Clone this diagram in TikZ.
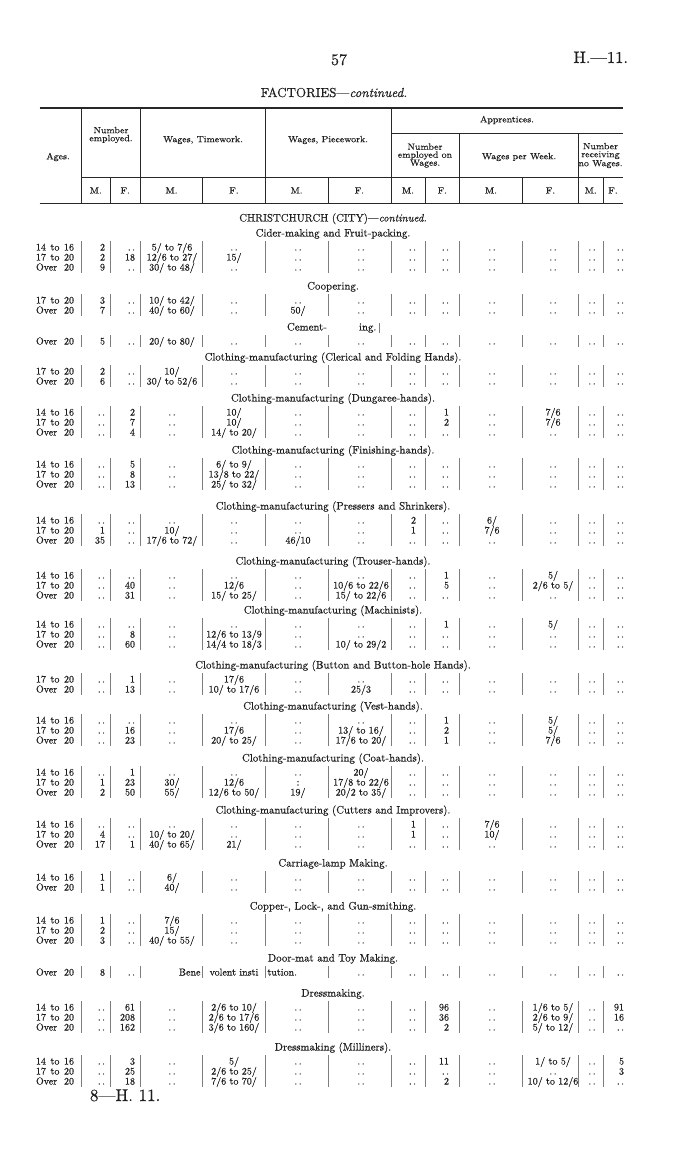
\documentclass[tikz,border=0pt]{standalone}
\usepackage{tikz}
\usepackage{fontspec}
\setmainfont{lmroman10-regular.otf}[ItalicFont=lmroman10-italic.otf, FakeBold=0.4]
\newfontfamily\hdrfont{lmroman10-regular.otf}[FakeStretch=1.1, FakeBold=0.4]
\definecolor{ink}{RGB}{30,30,30}
\definecolor{rulec}{RGB}{40,40,40}
\definecolor{barc}{RGB}{125,125,125}
\newcommand\dd{.\kern1.6pt.}
\newcounter{rowc}
\newcounter{ttlc}
\tikzset{
  every node/.style={inner sep=0pt, outer sep=0pt, text=ink},
  cell/.style={font=\fontsize{10}{11}\selectfont},
  ttl/.style={font=\fontsize{10.8}{12}\selectfont, anchor=base},
  hdr/.style={font=\hdrfont\fontsize{9}{8}\selectfont, align=center},
  heavyrule/.style={draw=rulec, line width=1.3pt},
  thinrule/.style={draw=rulec, line width=0.6pt},
  barline/.style={draw=barc, line width=0.45pt},
}
\newcommand\trow[3]{%
  \stepcounter{rowc}%
  \node[cell, anchor=base west] (a\therowc) at (36,#1) {\makebox[38pt][s]{#2}};
  \foreach \v [count=\i] in {#3} {%
    \pgfmathsetmacro\cx{{105,135,172,234,298,361,416,449,492,553,592,624}[\i-1]}%
    \pgfmathtruncatemacro\ca{{1,1,0,0,0,0,1,1,0,0,0,1}[\i-1]}%
    \ifnum\ca=1 \def\an{base east}\else\def\an{base}\fi
    \node[cell, anchor=\an] (c\therowc-\i) at (\cx,#1) {\v};
  }%
}
\newcommand\bars[2]{%
  \foreach \bx in {81.6,110,140.4,202.7,265.5,327.8,391,425,459.6,522.4,578.5,603} {%
    \draw[barline] (\bx,#1) -- (\bx,#2);
  }%
}
\newcommand\ttl[2]{%
  \stepcounter{ttlc}%
  \node[ttl] (t\thettlc) at (333,#1) {#2};
}
\begin{document}
\begin{tikzpicture}[x=1pt,y=-1pt]
\useasboundingbox (0,0) rectangle (700,1169);
\fill[white] (0,0) rectangle (700,1169);

% page head
\node[font=\fontsize{16}{16}\selectfont, anchor=base] (pg) at (339,65) {57};
\node[font=\fontsize{16.5}{16}\selectfont, anchor=base east] (hh) at (628,63) {H.---11.};
\node[font=\fontsize{13}{14}\selectfont, anchor=base] (fac) at (334,97) {FACTORIES---\textit{continued.}};

% header rules
\draw[heavyrule] (39.5,108) -- (623,108);
\draw[heavyrule] (39.5,203.5) -- (623,203.5);
\draw[thinrule] (391,133) -- (623,133);
\draw[thinrule] (81.6,177) -- (623,177);
\foreach \hx in {81.6,140.4,265.5,391} {\draw[thinrule] (\hx,108) -- (\hx,203.5);}
\foreach \hx in {459.6,578.5} {\draw[thinrule] (\hx,133) -- (\hx,203.5);}
\foreach \hx in {110,202.7,327.8,425,522.4,603} {\draw[thinrule] (\hx,177) -- (\hx,203.5);}

% header texts
\node[hdr] (hAges) at (58,157) {Ages.};
\node[hdr] (hNum) at (111,135) {Number\\employed.};
\node[hdr] (hTime) at (203,140) {Wages, Timework.};
\node[hdr] (hPiece) at (328,140) {Wages, Piecework.};
\node[hdr] (hApp) at (507,120) {Apprentices.};
\node[hdr] (hAN) at (425,155.5) {Number\\employed on\\Wages.};
\node[hdr] (hAW) at (519,157) {Wages per Week.};
\node[hdr] (hAR) at (600.5,155.5) {Number\\receiving\\no Wages.};
\foreach \mx/\ml [count=\k] in {95.8/M.,125.2/F.,171.5/M.,234/F.,296.6/M.,359.4/F.,408/M.,442.3/F.,491/M.,550.5/F.,590.7/M.,613/F.} {
  \node[hdr, anchor=base] (mf\k) at (\mx,193.5) {\ml};
}

% body
\ttl{221.5}{CHRISTCHURCH (CITY)---\textit{continued.}}

\ttl{236.5}{Cider-making and Fruit-packing.}
\bars{241}{273}
\trow{250.5}{14 to 16}{2,\dd,5/ to 7/6,\dd,\dd,\dd,\dd,\dd,\dd,\dd,\dd,\dd}
\trow{260.5}{17 to 20}{2,18,12/6 to 27/,15/,\dd,\dd,\dd,\dd,\dd,\dd,\dd,\dd}
\trow{270.5}{Over 20}{9,\dd,30/ to 48/,\dd,\dd,\dd,\dd,\dd,\dd,\dd,\dd,\dd}

\ttl{289.5}{Coopering.}
\bars{294}{316}
\trow{303.5}{17 to 20}{3,\dd,10/ to 42/,\dd,\dd,\dd,\dd,\dd,\dd,\dd,\dd,\dd}
\trow{313.5}{Over 20}{7,\dd,40/ to 60/,\dd,50/,\dd,\dd,\dd,\dd,\dd,\dd,\dd}

\node[ttl, anchor=base west] (cem1) at (287,330.5) {Cement-};
\node[ttl, anchor=base west] (cem2) at (359,330.5) {ing.};
\draw[barline] (379.5,323) -- (379.5,333);
\bars{335}{347}
\trow{344.5}{Over 20}{5,\dd,20/ to 80/,\dd,\dd,\dd,\dd,\dd,\dd,\dd,\dd,\dd}

\ttl{360.5}{Clothing-manufacturing (Clerical and Folding Hands).}
\bars{365}{387}
\trow{374.5}{17 to 20}{2,\dd,10/,\dd,\dd,\dd,\dd,\dd,\dd,\dd,\dd,\dd}
\trow{384.5}{Over 20}{6,\dd,30/ to 52/6,\dd,\dd,\dd,\dd,\dd,\dd,\dd,\dd,\dd}

\ttl{401.5}{Clothing-manufacturing (Dungaree-hands).}
\bars{406}{438}
\trow{415.5}{14 to 16}{\dd,2,\dd,10/,\dd,\dd,\dd,1,\dd,7/6,\dd,\dd}
\trow{425.5}{17 to 20}{\dd,7,\dd,10/,\dd,\dd,\dd,2,\dd,7/6,\dd,\dd}
\trow{435.5}{Over 20}{\dd,4,\dd,14/ to 20/,\dd,\dd,\dd,\dd,\dd,\dd,\dd,\dd}

\ttl{453.5}{Clothing-manufacturing (Finishing-hands).}
\bars{458}{490}
\trow{467.5}{14 to 16}{\dd,5,\dd,6/ to 9/,\dd,\dd,\dd,\dd,\dd,\dd,\dd,\dd}
\trow{477.5}{17 to 20}{\dd,8,\dd,13/8 to 22/,\dd,\dd,\dd,\dd,\dd,\dd,\dd,\dd}
\trow{487.5}{Over 20}{\dd,13,\dd,25/ to 32/,\dd,\dd,\dd,\dd,\dd,\dd,\dd,\dd}

\ttl{509.5}{Clothing-manufacturing (Pressers and Shrinkers).}
\bars{514}{546}
\trow{523.5}{14 to 16}{\dd,\dd,\dd,\dd,\dd,\dd,2,\dd,6/,\dd,\dd,\dd}
\trow{533.5}{17 to 20}{1,\dd,10/,\dd,\dd,\dd,1,\dd,7/6,\dd,\dd,\dd}
\trow{543.5}{Over 20}{35,\dd,17/6 to 72/,\dd,46/10,\dd,\dd,\dd,\dd,\dd,\dd,\dd}

\ttl{564.5}{Clothing-manufacturing (Trouser-hands).}
\bars{569}{601}
\trow{578.5}{14 to 16}{\dd,\dd,\dd,\dd,\dd,\dd,\dd,1,\dd,5/,\dd,\dd}
\trow{588.5}{17 to 20}{\dd,40,\dd,12/6,\dd,10/6 to 22/6,\dd,5,\dd,2/6 to 5/,\dd,\dd}
\trow{598.5}{Over 20}{\dd,31,\dd,15/ to 25/,\dd,15/ to 22/6,\dd,\dd,\dd,\dd,\dd,\dd}

\ttl{613.5}{Clothing-manufacturing (Machinists).}
\bars{618}{650}
\trow{627.5}{14 to 16}{\dd,\dd,\dd,\dd,\dd,\dd,\dd,1,\dd,5/,\dd,\dd}
\trow{637.5}{17 to 20}{\dd,8,\dd,12/6 to 13/9,\dd,\dd,\dd,\dd,\dd,\dd,\dd,\dd}
\trow{647.5}{Over 20}{\dd,60,\dd,14/4 to 18/3,\dd,10/ to 29/2,\dd,\dd,\dd,\dd,\dd,\dd}

\ttl{668.5}{Clothing-manufacturing (Button and Button-hole Hands).}
\bars{673}{695}
\trow{682.5}{17 to 20}{\dd,1,\dd,17/6,\dd,\dd,\dd,\dd,\dd,\dd,\dd,\dd}
\trow{692.5}{Over 20}{\dd,13,\dd,10/ to 17/6,\dd,25/3,\dd,\dd,\dd,\dd,\dd,\dd}

\ttl{709.5}{Clothing-manufacturing (Vest-hands).}
\bars{714}{746}
\trow{723.5}{14 to 16}{\dd,\dd,\dd,\dd,\dd,\dd,\dd,1,\dd,5/,\dd,\dd}
\trow{733.5}{17 to 20}{\dd,16,\dd,17/6,\dd,13/ to 16/,\dd,2,\dd,5/,\dd,\dd}
\trow{743.5}{Over 20}{\dd,23,\dd,20/ to 25/,\dd,17/6 to 20/,\dd,1,\dd,7/6,\dd,\dd}

\ttl{761.5}{Clothing-manufacturing (Coat-hands).}
\bars{766}{798}
\trow{775.5}{14 to 16}{\dd,1,\dd,\dd,\dd,20/,\dd,\dd,\dd,\dd,\dd,\dd}
\trow{785.5}{17 to 20}{1,23,30/,12/6,:,17/8 to 22/6,\dd,\dd,\dd,\dd,\dd,\dd}
\trow{795.5}{Over 20}{2,50,55/,12/6 to 50/,19/,20/2 to 35/,\dd,\dd,\dd,\dd,\dd,\dd}

\ttl{813.5}{Clothing-manufacturing (Cutters and Improvers).}
\bars{818}{850}
\trow{827.5}{14 to 16}{\dd,\dd,\dd,\dd,\dd,\dd,1,\dd,7/6,\dd,\dd,\dd}
\trow{837.5}{17 to 20}{4,\dd,10/ to 20/,\dd,\dd,\dd,1,\dd,10/,\dd,\dd,\dd}
\trow{847.5}{Over 20}{17,1,40/ to 65/,21/,\dd,\dd,\dd,\dd,\dd,\dd,\dd,\dd}

\ttl{866.5}{Carriage-lamp Making.}
\bars{871}{893}
\trow{880.5}{14 to 16}{1,\dd,6/,\dd,\dd,\dd,\dd,\dd,\dd,\dd,\dd,\dd}
\trow{890.5}{Over 20}{1,\dd,40/,\dd,\dd,\dd,\dd,\dd,\dd,\dd,\dd,\dd}

\ttl{909.5}{Copper-, Lock-, and Gun-smithing.}
\bars{914}{946}
\trow{923.5}{14 to 16}{1,\dd,7/6,\dd,\dd,\dd,\dd,\dd,\dd,\dd,\dd,\dd}
\trow{933.5}{17 to 20}{2,\dd,15/,\dd,\dd,\dd,\dd,\dd,\dd,\dd,\dd,\dd}
\trow{943.5}{Over 20}{3,\dd,40/ to 55/,\dd,\dd,\dd,\dd,\dd,\dd,\dd,\dd,\dd}

\ttl{961.5}{Door-mat and Toy Making.}
\bars{966}{978}
\trow{975.5}{Over 20}{8,\dd,,,,\dd,\dd,\dd,\dd,\dd,\dd,\dd}
\node[cell, anchor=base east] (ben1) at (200.5,975.5) {Bene};
\node[cell, anchor=base] (ben2) at (234,975.5) {volent insti};
\node[cell, anchor=base west] (ben3) at (267.5,975.5) {tution.};

\ttl{996.5}{Dressmaking.}
\bars{1001}{1033}
\trow{1010.5}{14 to 16}{\dd,61,\dd,2/6 to 10/,\dd,\dd,\dd,96,\dd,1/6 to 5/,\dd,91}
\trow{1020.5}{17 to 20}{\dd,208,\dd,2/6 to 17/6,\dd,\dd,\dd,36,\dd,2/6 to 9/,\dd,16}
\trow{1030.5}{Over 20}{\dd,162,\dd,3/6 to 160/,\dd,\dd,\dd,2,\dd,5/ to 12/,\dd,\dd}

\ttl{1050.5}{Dressmaking (Milliners).}
\bars{1055}{1087}
\trow{1064.5}{14 to 16}{\dd,3,\dd,5/,\dd,\dd,\dd,11,\dd,1/ to 5/,\dd,5}
\trow{1074.5}{17 to 20}{\dd,25,\dd,2/6 to 25/,\dd,\dd,\dd,\dd,\dd,\dd,\dd,3}
\trow{1084.5}{Over 20}{\dd,18,\dd,7/6 to 70/,\dd,\dd,\dd,2,\dd,10/ to 12/6,\dd,\dd}

\node[font=\fontsize{17}{17}\selectfont, anchor=base west] (foot) at (90,1101) {8---H. 11.};
\end{tikzpicture}
\end{document}
